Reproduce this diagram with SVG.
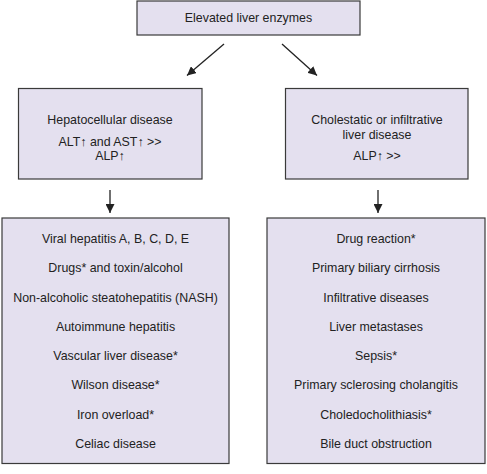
<svg xmlns="http://www.w3.org/2000/svg" width="487" height="474" viewBox="0 0 487 474">
<defs>
<style>
.box{fill:#e4e0ef;stroke:#3a3a3a;stroke-width:1.2}
text{font-family:"Liberation Sans",Arial,sans-serif;font-size:12.4px;fill:#222;text-anchor:middle}
.ln{stroke:#222;stroke-width:1.3;fill:none}
</style>
<marker id="ah" viewBox="0 0 10 10" refX="10" refY="5" markerWidth="9" markerHeight="9" markerUnits="userSpaceOnUse" orient="auto">
<path d="M0,0 L10,5 L0,10 Z" fill="#222"/>
</marker>
</defs>
<rect width="487" height="474" fill="#fff"/>
<g id="top">
<rect class="box" x="137" y="1" width="223" height="34"/>
<text x="248.5" y="22">Elevated liver enzymes</text>
</g>
<g id="hepatocellular">
<rect class="box" x="18.5" y="88.5" width="183.5" height="90.5"/>
<text x="110" y="124">Hepatocellular disease</text>
<text x="110" y="146">ALT↑ and AST↑ &gt;&gt;</text>
<text x="110" y="160">ALP↑</text>
</g>
<g id="cholestatic">
<rect class="box" x="285.5" y="88.5" width="182.5" height="90.5"/>
<text x="377" y="124">Cholestatic or infiltrative</text>
<text x="377" y="139">liver disease</text>
<text x="377" y="160">ALP↑ &gt;&gt;</text>
</g>
<g id="hep-list">
<rect class="box" x="2" y="218" width="227" height="245.5"/>
<text x="115.5" y="243">Viral hepatitis A, B, C, D, E</text>
<text x="115.5" y="272.3">Drugs* and toxin/alcohol</text>
<text x="115.5" y="301.6">Non-alcoholic steatohepatitis (NASH)</text>
<text x="115.5" y="330.9">Autoimmune hepatitis</text>
<text x="115.5" y="360.1">Vascular liver disease*</text>
<text x="115.5" y="389.4">Wilson disease*</text>
<text x="115.5" y="418.7">Iron overload*</text>
<text x="115.5" y="448">Celiac disease</text>
</g>
<g id="chol-list">
<rect class="box" x="267" y="218" width="218" height="245.5"/>
<text x="376" y="243">Drug reaction*</text>
<text x="376" y="272.3">Primary biliary cirrhosis</text>
<text x="376" y="301.6">Infiltrative diseases</text>
<text x="376" y="330.9">Liver metastases</text>
<text x="376" y="360.1">Sepsis*</text>
<text x="376" y="389.4">Primary sclerosing cholangitis</text>
<text x="376" y="418.7">Choledocholithiasis*</text>
<text x="376" y="448">Bile duct obstruction</text>
</g>
<g id="connectors">
<line class="ln" x1="224" y1="44" x2="187" y2="75.5" marker-end="url(#ah)"/>
<line class="ln" x1="282" y1="44" x2="317" y2="75.5" marker-end="url(#ah)"/>
<line class="ln" x1="110" y1="190" x2="110" y2="213" marker-end="url(#ah)"/>
<line class="ln" x1="378" y1="190" x2="378" y2="213" marker-end="url(#ah)"/>
</g>
</svg>
